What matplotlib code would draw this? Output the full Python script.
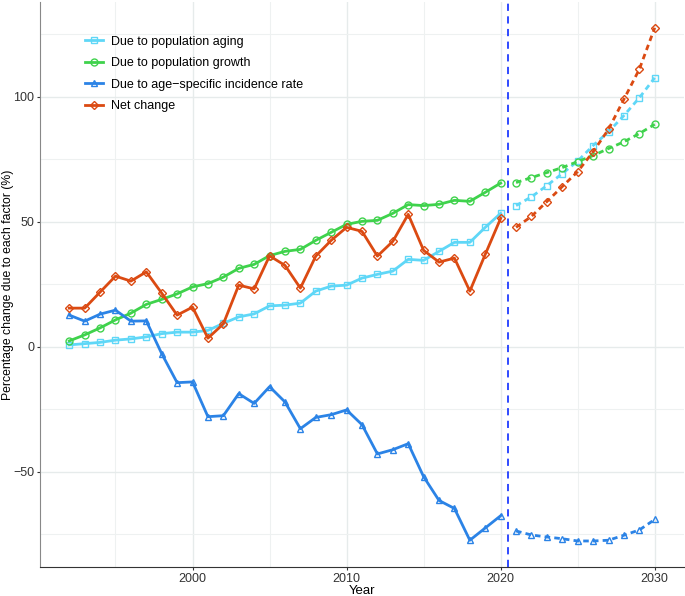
import matplotlib.pyplot as plt
from matplotlib.ticker import MultipleLocator

# anos
anos_hist = list(range(1992, 2021))
anos_proj = list(range(2021, 2031))

# valores historicos (1992-2020)
envelhecimento = [0.8, 1.3, 1.8, 2.7, 3.2, 4.0, 5.3, 5.9, 5.9, 6.6, 9.4, 12.0, 13.2, 16.4,
                  16.7, 17.5, 22.3, 24.3, 24.7, 27.5, 29.0, 30.3, 35.0, 34.6, 38.2, 41.8,
                  41.8, 47.8, 53.4]
crescimento = [2.4, 4.8, 7.6, 10.8, 13.5, 17.0, 19.0, 21.2, 24.0, 25.3, 27.9, 31.4, 33.0, 36.5,
               38.2, 39.0, 42.6, 45.8, 49.0, 50.2, 50.6, 53.4, 56.9, 56.5, 57.0, 58.6,
               58.2, 61.8, 65.5]
incidencia = [12.7, 10.3, 13.1, 14.7, 10.3, 10.4, -2.7, -14.3, -14.0, -27.9, -27.5, -18.7,
              -22.6, -15.9, -22.0, -32.7, -28.2, -27.1, -25.2, -31.1, -42.8, -41.1, -38.7,
              -51.9, -61.4, -64.6, -77.3, -72.4, -67.5]
liquida = [15.5, 15.5, 21.9, 28.3, 26.3, 30.0, 21.5, 12.7, 15.9, 3.5, 9.2, 24.7, 23.2, 36.4,
           32.6, 23.5, 36.3, 42.6, 47.8, 46.2, 36.3, 42.2, 53.0, 38.6, 33.9, 35.5, 22.3,
           37.0, 51.4]

# projecoes (2021-2030)
envelhecimento_proj = [56.5, 60.0, 64.5, 69.3, 74.3, 80.5, 86.0, 92.5, 99.6, 107.6]
crescimento_proj = [65.7, 67.7, 69.7, 71.7, 74.1, 76.5, 79.3, 82.0, 85.3, 89.0]
incidencia_proj = [-73.6, -75.2, -76.0, -76.7, -77.6, -77.6, -77.3, -75.3, -73.2, -69.0]
liquida_proj = [47.8, 52.2, 58.1, 64.1, 70.1, 78.0, 87.0, 99.0, 111.0, 127.6]

rotulos = ['Due to population aging', 'Due to population growth',
           'Due to age\u2212specific incidence rate', 'Net change']
cores = ['#5fd7f7', '#3fd24c', '#2b83e6', '#db4a12']
marcadores = ['s', 'o', '^', 'D']

hist = [envelhecimento, crescimento, incidencia, liquida]
proj = [envelhecimento_proj, crescimento_proj, incidencia_proj, liquida_proj]

plt.rcParams['font.family'] = ['Liberation Sans', 'DejaVu Sans']

fig = plt.figure(figsize=(6.85, 5.96), dpi=100)
ax = fig.add_axes([40 / 685, 29 / 596, 644 / 685, 565 / 596])

for serie, serie_p, cor, m, rot in zip(hist, proj, cores, marcadores, rotulos):
    ms = 5 if m != 'D' else 4.5
    ax.plot(anos_hist, serie, color=cor, lw=2, marker=m, ms=ms, mfc='none',
            mec=cor, mew=1, label=rot)
    ax.plot(anos_proj, serie_p, color=cor, lw=2, ls=(0, (2, 1.5)), marker=m, ms=ms,
            mfc='none', mec=cor, mew=1)

ax.axvline(2020.5, color='#1f3cff', lw=1.3, ls=(0, (4, 3)))

ax.set_xlim(1990.1, 2031.9)
ax.set_ylim(-88, 137.9)
ax.xaxis.set_major_locator(MultipleLocator(10))
ax.xaxis.set_minor_locator(MultipleLocator(5))
ax.yaxis.set_major_locator(MultipleLocator(50))
ax.yaxis.set_minor_locator(MultipleLocator(25))
ax.grid(which='major', color='#e6ebeb', lw=1)
ax.grid(which='minor', color='#eef1f1', lw=0.8)
ax.set_axisbelow(True)

for lado in ['top', 'right']:
    ax.spines[lado].set_visible(False)
ax.spines['left'].set_color('#888888')
ax.spines['bottom'].set_color('#333333')
ax.tick_params(which='major', length=2.5, pad=1.5, color='#333333', labelsize=9,
               labelcolor='#333333')
ax.tick_params(which='minor', length=0)

ax.set_xlabel('Year', fontsize=9.5, labelpad=0)
ax.set_ylabel('Percentage change due to each factor (%)', fontsize=8.8)
ax.yaxis.set_label_coords(-0.041, 0.5)

ax.legend(loc='upper left', bbox_to_anchor=(0.052, 0.96), frameon=False, fontsize=9,
          handlelength=1.5, labelspacing=0.75, handletextpad=0.6)

fig.savefig('out.png', dpi=100)
